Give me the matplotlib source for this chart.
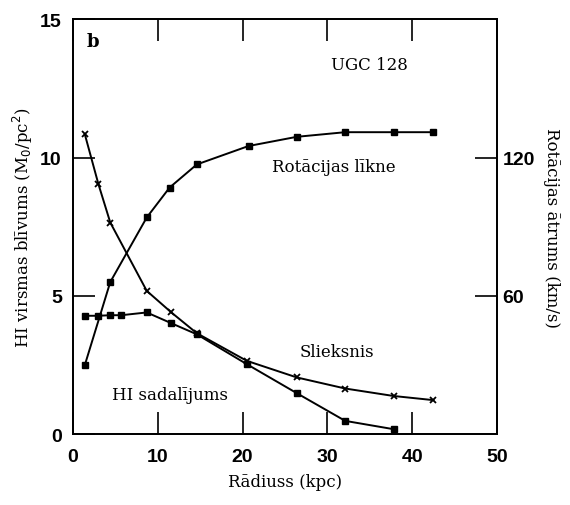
import matplotlib
matplotlib.use("Agg")
import matplotlib.pyplot as plt

# data (UGC 128)
r_hi = [1.4, 3.0, 4.4, 5.7, 8.7, 11.6, 14.6, 20.5, 26.4, 32.1, 37.8]
hi_density = [4.28, 4.28, 4.30, 4.30, 4.40, 4.01, 3.61, 2.53, 1.48, 0.48, 0.18]

r_thr = [1.4, 3.0, 4.4, 8.7, 11.6, 14.6, 20.5, 26.4, 32.1, 37.8, 42.5]
threshold = [10.84, 9.04, 7.65, 5.18, 4.40, 3.65, 2.65, 2.05, 1.65, 1.38, 1.23]

r_rot = [1.4, 4.4, 8.7, 11.4, 14.6, 20.7, 26.4, 32.1, 37.8, 42.5]
rot_vel = [30, 66, 94, 107, 117, 125, 129, 131, 131, 131]  # km/s

x_ticks = [0, 10, 20, 30, 40, 50]
y_ticks = [0, 5, 10, 15]
v_ticks = [60, 120]

serif = "DejaVu Serif"
sans = "Liberation Sans"

fig = plt.figure(figsize=(5.7, 5.06), dpi=100)
ax = fig.add_axes([0.128, 0.140, 0.744, 0.820])
ax2 = ax.twinx()

ax.plot(r_hi, hi_density, color="black", lw=1.4, marker="s", ms=4.5)
ax.plot(r_thr, threshold, color="black", lw=1.4, marker="x", ms=5, mew=1.3)
ax2.plot(r_rot, rot_vel, color="black", lw=1.4, marker="s", ms=4.5)

ax.set_xlim(0, 50)
ax.set_ylim(0, 15)
ax2.set_ylim(0, 180)

ax.set_xticks(x_ticks)
ax.set_yticks(y_ticks)
ax2.set_yticks(v_ticks)

ax.tick_params(axis="both", direction="in", length=16, width=1.2,
               top=True, right=False, labelsize=14, pad=8)
ax.tick_params(axis="x", pad=10)
ax2.tick_params(axis="y", direction="in", length=16, width=1.2, labelsize=14, pad=4)

for lab in ax.get_xticklabels() + ax.get_yticklabels() + ax2.get_yticklabels():
    lab.set_fontfamily(sans)
    lab.set_fontweight("bold")

for a in (ax, ax2):
    for s in a.spines.values():
        s.set_linewidth(1.3)

ax.set_xlabel("Rādiuss (kpc)", fontfamily=serif, fontsize=12, labelpad=6)
ax.set_ylabel("HI virsmas blīvums (M$_0$/pc$^2$)", fontfamily=serif, fontsize=12, labelpad=4)
ax2.set_ylabel("Rotācijas ātrums (km/s)", fontfamily=serif, fontsize=12,
               rotation=-90, labelpad=18)

ax.text(0.033, 0.947, "b", transform=ax.transAxes, fontfamily=serif,
        fontweight="bold", fontsize=13, va="center", ha="left")
ax.text(0.70, 0.892, "UGC 128", transform=ax.transAxes, fontfamily=serif,
        fontsize=12, va="center", ha="center")
ax.text(0.469, 0.646, "Rotācijas līkne", transform=ax.transAxes, fontfamily=serif,
        fontsize=12, va="center", ha="left")
ax.text(0.535, 0.20, "Slieksnis", transform=ax.transAxes, fontfamily=serif,
        fontsize=12, va="center", ha="left")
ax.text(0.092, 0.096, "HI sadalījums", transform=ax.transAxes, fontfamily=serif,
        fontsize=12, va="center", ha="left")

fig.savefig("out.png", dpi=100)
